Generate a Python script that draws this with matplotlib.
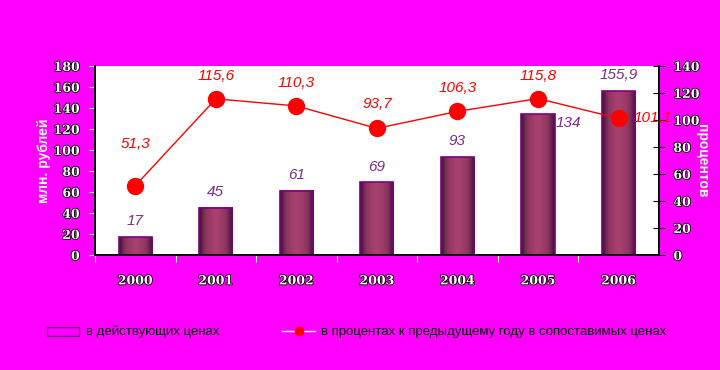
import numpy as np
import matplotlib
matplotlib.use("Agg")
import matplotlib.pyplot as plt
import matplotlib.patheffects as pe
from matplotlib.lines import Line2D
from matplotlib.patches import Rectangle

plt.rcParams['font.family'] = ['Liberation Sans', 'DejaVu Sans']

# donnees
annees = ["2000", "2001", "2002", "2003", "2004", "2005", "2006"]
montants = [17, 45, 61, 69, 93, 134, 155.9]          # млн. рублей
montants_txt = ["17", "45", "61", "69", "93", "134", "155,9"]
pourcents = [51.3, 115.6, 110.3, 93.7, 106.3, 115.8, 101.1]
pourcents_txt = ["51,3", "115,6", "110,3", "93,7", "106,3", "115,8", "101,1"]

FOND = "#FF00FF"
VIOLET = "#7B2C8C"
ombre_txt = [pe.withStroke(linewidth=1.2, foreground="black")]

fig = plt.figure(figsize=(7.2, 3.7), dpi=100, facecolor=FOND)
ax = fig.add_axes([0.132, 0.311, 0.783, 0.511])
ax2 = ax.twinx()

x = np.arange(len(annees))
larg = 0.41

# barres "cylindre" avec degrade
grad = np.abs(np.linspace(-1, 1, 64)) ** 1.5
cmap = matplotlib.colors.LinearSegmentedColormap.from_list(
    "cyl", ["#a8416f", "#8a3360", "#3a1230"])
for xi, h in zip(x, montants):
    ax.imshow(grad[np.newaxis, :], cmap=cmap, aspect="auto",
              extent=(xi - larg / 2, xi + larg / 2, 0, h), zorder=2)
    ax.add_patch(Rectangle((xi - larg / 2, 0), larg, h, fill=False,
                           edgecolor="#800080", linewidth=1.2, zorder=3))

ax.set_xlim(-0.5, 6.5)
ax.set_ylim(0, 180)
ax.set_yticks(np.arange(0, 181, 20))
ax.set_xticks(np.arange(-0.5, 6.5, 1.0))
ax.set_xticklabels([])
ax.set_xticks(x, minor=True)
ax.set_xticklabels(annees, minor=True)
ax.tick_params(axis="x", which="minor", length=0, pad=14)
ax.tick_params(axis="x", which="major", length=5, direction="out", color="white")
ax.tick_params(axis="y", length=4, direction="out", color="white", pad=7)

for lab in ax.get_yticklabels() + ax.get_xticklabels(minor=True):
    lab.set_color("white")
    lab.set_fontsize(9)
    lab.set_fontweight("bold")
    lab.set_fontfamily("DejaVu Serif")
    lab.set_path_effects(ombre_txt)

ax.set_ylabel("млн. рублей", color="white", fontsize=10, fontweight="bold", labelpad=2)

# etiquettes des barres
for i, (h, t) in enumerate(zip(montants, montants_txt)):
    if t == "134":
        ax.text(i + 0.38, h - 8, t, color=VIOLET, fontsize=11,
                style="italic", ha="center", va="center", zorder=5)
    else:
        ax.text(i, h + 15, t, color=VIOLET, fontsize=11,
                style="italic", ha="center", va="center", zorder=5)

# courbe en pourcents
ax2.plot(x, pourcents, color="red", linewidth=1, marker="o",
         markersize=11.5, markerfacecolor="red", markeredgecolor="red", zorder=6)
ax2.set_ylim(0, 140)
ax2.set_yticks(np.arange(0, 141, 20))
ax2.tick_params(axis="y", length=9, direction="inout", color="black", pad=6)
for lab in ax2.get_yticklabels():
    lab.set_color("white")
    lab.set_fontsize(9)
    lab.set_fontweight("bold")
    lab.set_fontfamily("DejaVu Serif")
    lab.set_path_effects(ombre_txt)
ax2.set_ylabel("процентов", color="white", fontsize=10, fontweight="bold",
               rotation=-90, labelpad=7)

decal = [31, 17, 17, 18, 17, 17, 0]
for i, (p, t) in enumerate(zip(pourcents, pourcents_txt)):
    if i == len(pourcents) - 1:
        ax2.text(i + 0.42, p, t, color="red", fontsize=11, style="italic",
                 ha="center", va="center", zorder=7)
    else:
        ax2.text(i, p + decal[i], t, color="red", fontsize=11, style="italic",
                 ha="center", va="center", zorder=7)

ax.set_facecolor("white")
ax.set_zorder(1)
ax2.set_zorder(2)
ax2.patch.set_visible(False)
for a in (ax, ax2):
    a.spines["top"].set_visible(False)
    for s in ("left", "bottom", "right"):
        a.spines[s].set_color("black")
        a.spines[s].set_linewidth(1.2)

# legende (dessinee a la main en coordonnees figure)
fig.patches.append(Rectangle((47 / 720, 1 - 336 / 370), 32 / 720, 9 / 370,
                             transform=fig.transFigure, facecolor=FOND,
                             edgecolor="#800080", linewidth=1))
fig.text(86 / 720, 1 - 332 / 370, "в действующих ценах", fontsize=9.5,
         color="black", va="center", ha="left")
fig.lines.append(Line2D([282 / 720, 315 / 720], [1 - 331 / 370] * 2,
                        transform=fig.transFigure, color="white", linewidth=1))
fig.lines.append(Line2D([298.5 / 720], [1 - 331 / 370], transform=fig.transFigure,
                        marker="o", markersize=6, color="red", linestyle="none"))
fig.text(321 / 720, 1 - 332 / 370,
         "в процентах к предыдущему году в сопоставимых ценах", fontsize=9.5,
         color="black", va="center", ha="left")

fig.savefig("out.png", dpi=100, facecolor=FOND)
